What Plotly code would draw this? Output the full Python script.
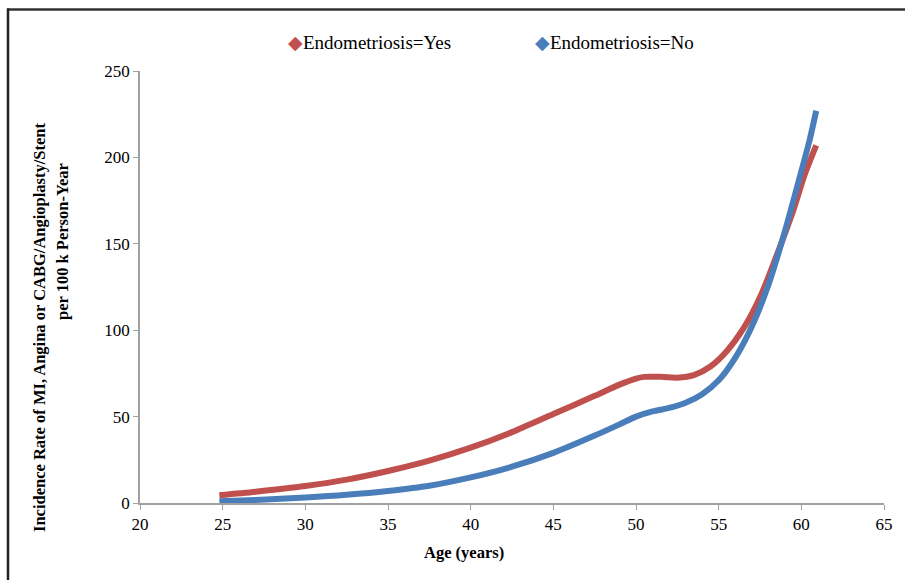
import plotly.graph_objects as go

age_yes = [24.8, 27, 30, 32.5, 35, 37.5, 40, 42.5, 45, 47.5, 49, 50, 50.5, 51.5, 52.5, 53.5,
           54.5, 55.5, 56.5, 57.5, 58.5, 59.5, 60.2, 60.9]
rate_yes = [4.5, 6.5, 9.8, 13.5, 18.5, 24.5, 32, 41, 51.5, 62, 68.5, 72, 73, 73, 72.5, 74,
            79, 88, 101, 119, 143, 169, 190, 207]

age_no = [24.8, 27, 30, 32.5, 35, 37.5, 40, 42.5, 45, 47.5, 49, 50, 51, 52, 53, 54,
          55, 56, 57, 58, 59, 60, 60.5, 60.9]
rate_no = [1, 1.8, 3.2, 4.8, 7, 10, 14.8, 21, 29, 39, 45.5, 50, 53, 55, 58, 63,
           71, 84, 102, 126, 157, 192, 210, 227]

x_ticks = [20, 25, 30, 35, 40, 45, 50, 55, 60, 65]
y_ticks = [0, 50, 100, 150, 200, 250]

RED = "#C0504D"
BLUE = "#4A7EBB"
FONT = "Liberation Serif"

W, H = 905, 580
ML, MR, MT, MB = 140, 21, 71, 77
PW, PH = W - ML - MR, H - MT - MB


def px_x(p):
    return (p - ML) / PW


def px_y(p):
    return (H - MB - p) / PH


fig = go.Figure()
fig.add_trace(go.Scatter(x=age_yes, y=rate_yes, mode="lines", line=dict(color=RED, width=6, shape="spline", smoothing=0.8),
                         name="Endometriosis=Yes", showlegend=False))
fig.add_trace(go.Scatter(x=age_no, y=rate_no, mode="lines", line=dict(color=BLUE, width=6, shape="spline", smoothing=0.8),
                         name="Endometriosis=No", showlegend=False))

annotations = [
    dict(x=px_x(286), y=px_y(43), xref="paper", yref="paper", xanchor="left", yanchor="middle",
         text=f"<span style='color:{RED};font-size:19px'>◆</span>Endometriosis=Yes", showarrow=False,
         font=dict(family=FONT, size=19, color="#000")),
    dict(x=px_x(533), y=px_y(43), xref="paper", yref="paper", xanchor="left", yanchor="middle",
         text=f"<span style='color:{BLUE};font-size:19px'>◆</span>Endometriosis=No", showarrow=False,
         font=dict(family=FONT, size=19, color="#000")),
    dict(x=px_x(464), y=px_y(552), xref="paper", yref="paper", xanchor="center", yanchor="middle",
         text="<b>Age (years)</b>", showarrow=False, font=dict(family=FONT, size=16.5, color="#000")),
    dict(x=px_x(39), y=px_y(327), xref="paper", yref="paper", xanchor="center", yanchor="middle",
         text="<b>Incidence Rate of MI, Angina or CABG/Angioplasty/Stent</b>", textangle=-90, showarrow=False,
         font=dict(family=FONT, size=16.5, color="#000")),
    dict(x=px_x(62), y=px_y(242), xref="paper", yref="paper", xanchor="center", yanchor="middle",
         text="<b>per 100 k Person-Year</b>", textangle=-90, showarrow=False,
         font=dict(family=FONT, size=16.5, color="#000")),
]

shapes = [
    dict(type="line", xref="paper", yref="paper", x0=px_x(7), x1=px_x(920), y0=px_y(9.5), y1=px_y(9.5),
         line=dict(color="#333", width=2.5)),
    dict(type="line", xref="paper", yref="paper", x0=px_x(8), x1=px_x(8), y0=px_y(8.5), y1=px_y(600),
         line=dict(color="#222", width=2.5)),
]

fig.update_layout(
    width=W, height=H,
    margin=dict(l=ML, r=MR, t=MT, b=MB),
    paper_bgcolor="white", plot_bgcolor="white",
    font=dict(family=FONT, size=17, color="#000"),
    annotations=annotations, shapes=shapes,
    showlegend=False,
    xaxis=dict(range=[20, 65], tickvals=x_ticks, showgrid=False, zeroline=False,
               showline=True, linecolor="#A0A0A0", linewidth=1.5, ticks="outside", ticklen=5,
               tickcolor="#A0A0A0", tickfont=dict(family=FONT, size=17)),
    yaxis=dict(range=[0, 250], tickvals=y_ticks, showgrid=False, zeroline=False,
               showline=True, linecolor="#A0A0A0", linewidth=1.5, ticks="outside", ticklen=5,
               tickcolor="#A0A0A0", tickfont=dict(family=FONT, size=17)),
)

fig.write_html("out.html", config={"displayModeBar": False},
               post_script="document.body.style.margin='0px';document.body.style.overflow='hidden';")
